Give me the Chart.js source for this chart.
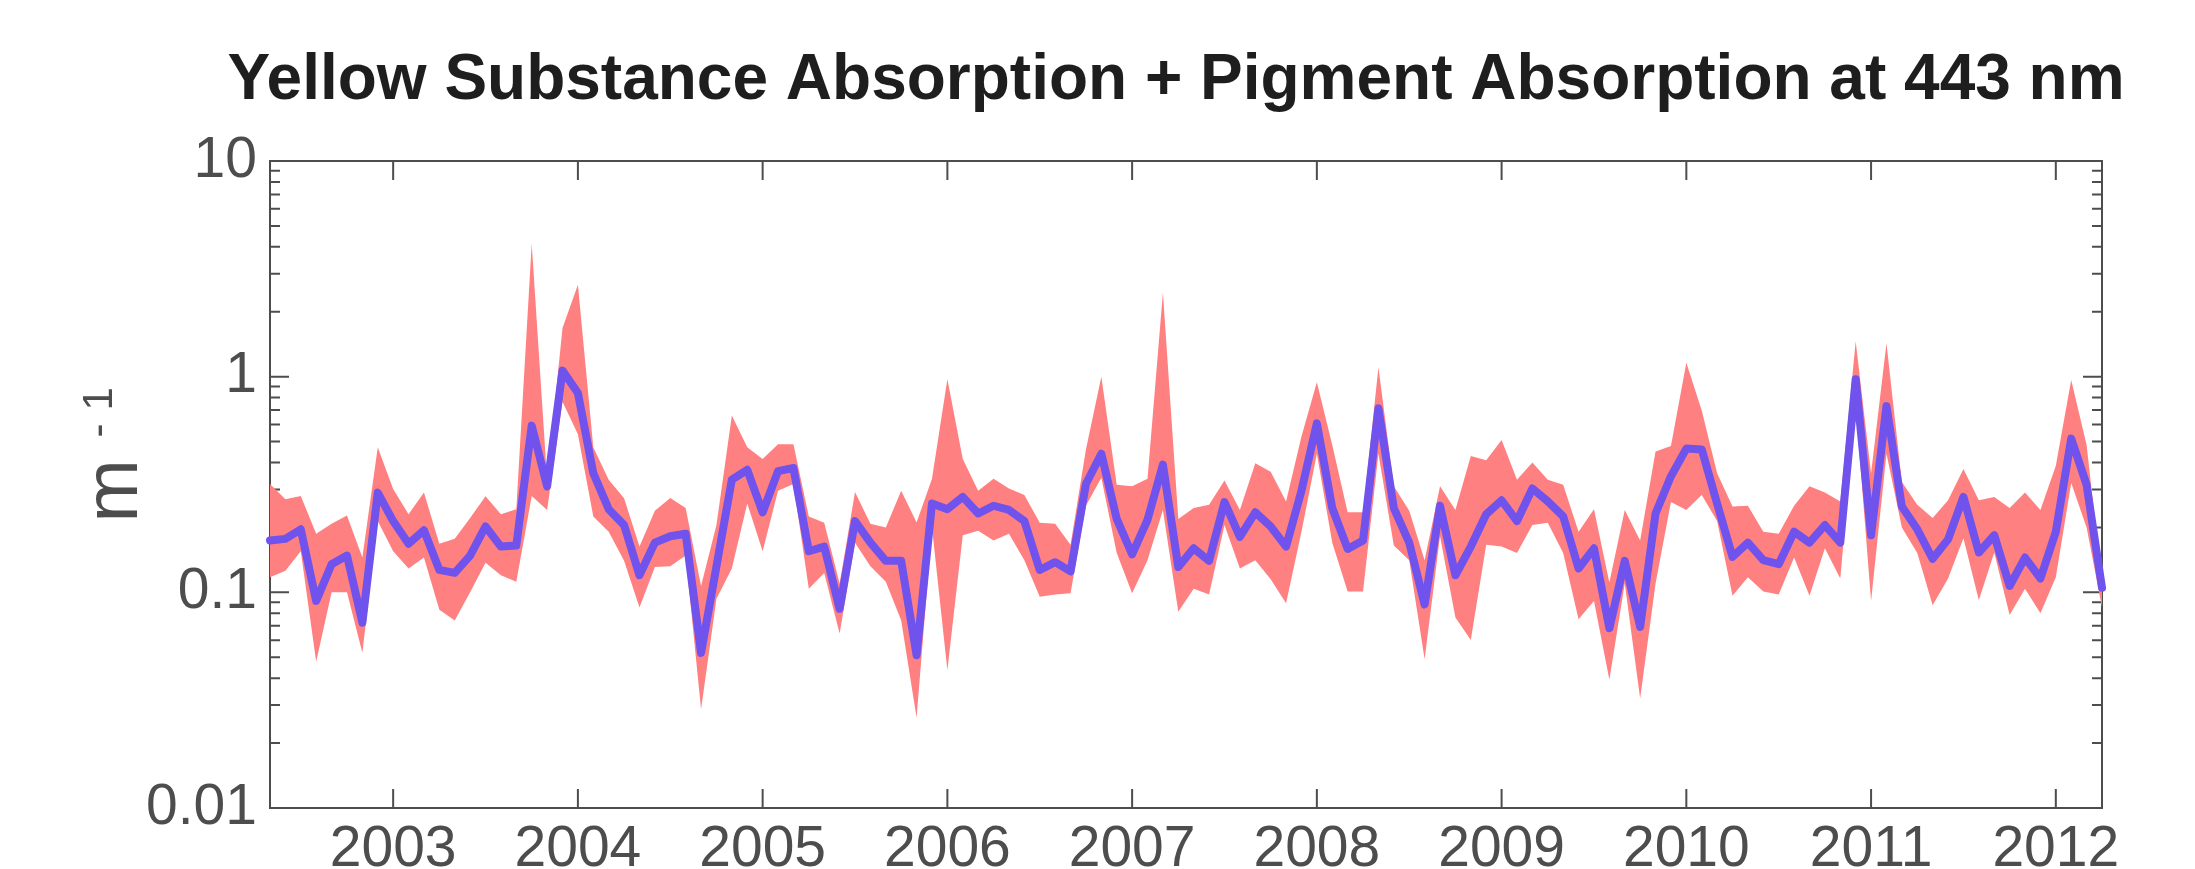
<!DOCTYPE html>
<html><head><meta charset="utf-8">
<script src="https://cdn.jsdelivr.net/npm/chart.js@4.4.1/dist/chart.umd.min.js"></script>
<style>html,body{margin:0;padding:0;background:#fff;}#wrap{width:2195px;height:869px;}</style>
</head><body><div id="wrap"><canvas id="c" width="2195" height="869"></canvas></div>
<script>
const months = [
'2002-05','2002-06','2002-07','2002-08','2002-09','2002-10','2002-11','2002-12',
'2003-01','2003-02','2003-03','2003-04','2003-05','2003-06','2003-07','2003-08','2003-09','2003-10','2003-11','2003-12',
'2004-01','2004-02','2004-03','2004-04','2004-05','2004-06','2004-07','2004-08','2004-09','2004-10','2004-11','2004-12',
'2005-01','2005-02','2005-03','2005-04','2005-05','2005-06','2005-07','2005-08','2005-09','2005-10','2005-11','2005-12',
'2006-01','2006-02','2006-03','2006-04','2006-05','2006-06','2006-07','2006-08','2006-09','2006-10','2006-11','2006-12',
'2007-01','2007-02','2007-03','2007-04','2007-05','2007-06','2007-07','2007-08','2007-09','2007-10','2007-11','2007-12',
'2008-01','2008-02','2008-03','2008-04','2008-05','2008-06','2008-07','2008-08','2008-09','2008-10','2008-11','2008-12',
'2009-01','2009-02','2009-03','2009-04','2009-05','2009-06','2009-07','2009-08','2009-09','2009-10','2009-11','2009-12',
'2010-01','2010-02','2010-03','2010-04','2010-05','2010-06','2010-07','2010-08','2010-09','2010-10','2010-11','2010-12',
'2011-01','2011-02','2011-03','2011-04','2011-05','2011-06','2011-07','2011-08','2011-09','2011-10','2011-11','2011-12',
'2012-01','2012-02','2012-03','2012-04'
];
const meanValues = [
0.174,0.177,0.196,0.0912,0.135,0.148,0.0723,0.290,0.214,0.168,
0.194,0.127,0.123,0.148,0.202,0.163,0.165,0.593,0.310,1.067,
0.839,0.357,0.243,0.205,0.120,0.170,0.182,0.187,0.0524,0.132,
0.333,0.370,0.235,0.365,0.377,0.155,0.163,0.0839,0.214,0.170,
0.140,0.140,0.0511,0.258,0.243,0.277,0.232,0.252,0.241,0.214,
0.127,0.138,0.125,0.318,0.439,0.219,0.150,0.217,0.391,0.131,
0.160,0.140,0.262,0.181,0.235,0.202,0.163,0.296,0.607,0.246,
0.159,0.174,0.713,0.246,0.170,0.0879,0.252,0.120,0.163,0.230,
0.267,0.214,0.303,0.264,0.225,0.129,0.160,0.0681,0.140,0.0691,
0.232,0.345,0.464,0.460,0.258,0.146,0.170,0.141,0.135,0.191,
0.170,0.205,0.170,0.973,0.184,0.730,0.250,0.196,0.143,0.176,
0.277,0.153,0.184,0.107,0.145,0.116,0.191,0.516,0.315,0.105
];
const upperValues = [
0.318,0.270,0.280,0.187,0.208,0.227,0.145,0.471,0.301,0.230,
0.290,0.168,0.177,0.221,0.279,0.230,0.243,4.13,0.333,1.68,
2.67,0.471,0.333,0.273,0.163,0.239,0.274,0.246,0.107,0.205,
0.660,0.471,0.415,0.486,0.486,0.225,0.210,0.110,0.292,0.208,
0.200,0.296,0.211,0.336,0.973,0.415,0.296,0.336,0.303,0.283,
0.210,0.208,0.166,0.460,1.0,0.315,0.310,0.336,2.45,0.219,
0.246,0.255,0.330,0.241,0.397,0.362,0.264,0.528,0.942,0.482,
0.235,0.235,1.107,0.310,0.239,0.141,0.310,0.241,0.429,0.410,
0.509,0.333,0.400,0.333,0.315,0.191,0.243,0.111,0.241,0.174,
0.450,0.477,1.16,0.697,0.357,0.250,0.252,0.191,0.187,0.252,
0.310,0.290,0.264,1.46,0.357,1.43,0.325,0.255,0.221,0.267,
0.373,0.267,0.277,0.246,0.290,0.241,0.386,0.964,0.482,0.110
];
const lowerValues = [
0.1175,0.126,0.155,0.0477,0.100,0.100,0.0524,0.214,0.155,0.129,
0.145,0.0831,0.0740,0.100,0.137,0.120,0.112,0.280,0.241,0.765,
0.541,0.225,0.191,0.140,0.0851,0.131,0.132,0.148,0.0287,0.0933,
0.129,0.258,0.155,0.296,0.318,0.104,0.123,0.0645,0.170,0.132,
0.112,0.074,0.0262,0.200,0.0435,0.184,0.193,0.174,0.187,0.141,
0.0955,0.0977,0.099,0.252,0.340,0.152,0.099,0.141,0.241,0.0812,
0.104,0.0977,0.205,0.129,0.141,0.115,0.0891,0.191,0.439,0.170,
0.101,0.101,0.439,0.165,0.141,0.0489,0.182,0.0765,0.0601,0.166,
0.163,0.152,0.205,0.210,0.152,0.0751,0.0912,0.0393,0.110,0.0322,
0.110,0.262,0.241,0.283,0.214,0.0964,0.1175,0.101,0.0977,0.145,
0.0964,0.160,0.116,0.730,0.0912,0.439,0.200,0.152,0.0871,0.116,
0.178,0.092,0.153,0.0786,0.104,0.080,0.1175,0.321,0.200,0.0851
];
const yTickValues = [0.01, 0.1, 1, 10];
const yTickLabels = ['0.01', '0.1', '1', '10'];
const yMinorMultipliers = [2,3,4,5,6,7,8,9];
const titleText = 'Yellow Substance Absorption + Pigment Absorption at 443 nm';
const yUnit = 'm';
const yUnitSign = '-';
const yUnitPower = '1';

const FONT = "'Liberation Sans', Arial, Helvetica, sans-serif";
const AXIS_COLOR = '#4d4d4d';
const FILL_COLOR = 'rgb(255,128,128)';
const LINE_COLOR = '#6f53ec';

const decorPlugin = {
  id: 'decor',
  beforeDatasetsDraw(chart) {
    const {ctx, chartArea: a, scales: {x, y}} = chart;
    ctx.save();
    ctx.strokeStyle = AXIS_COLOR;
    ctx.lineWidth = 2;
    ctx.beginPath();
    x.ticks.forEach((t, i) => {
      const px = x.getPixelForTick(i);
      ctx.moveTo(px, a.bottom); ctx.lineTo(px, a.bottom - 19);
      ctx.moveTo(px, a.top); ctx.lineTo(px, a.top + 19);
    });
    yTickValues.forEach((v, idx) => {
      const py = y.getPixelForValue(v);
      ctx.moveTo(a.left, py); ctx.lineTo(a.left + 19, py);
      ctx.moveTo(a.right, py); ctx.lineTo(a.right - 19, py);
      if (idx < yTickValues.length - 1) {
        yMinorMultipliers.forEach(m => {
          const pm = y.getPixelForValue(v * m);
          ctx.moveTo(a.left, pm); ctx.lineTo(a.left + 10, pm);
          ctx.moveTo(a.right, pm); ctx.lineTo(a.right - 10, pm);
        });
      }
    });
    ctx.stroke();
    ctx.strokeRect(a.left, a.top, a.right - a.left, a.bottom - a.top);
    ctx.restore();
  },
  afterDraw(chart) {
    const {ctx, chartArea: a} = chart;
    ctx.save();
    ctx.fillStyle = '#1e1e1e';
    ctx.font = 'bold 64px ' + FONT;
    ctx.textAlign = 'center';
    ctx.textBaseline = 'alphabetic';
    ctx.fillText(titleText, (a.left + a.right) / 2 - 10, a.top - 62);
    const cy = (a.top + a.bottom) / 2;
    ctx.translate(a.left - 133, cy + 38);
    ctx.rotate(-Math.PI / 2);
    ctx.fillStyle = AXIS_COLOR;
    ctx.textAlign = 'left';
    ctx.font = '76px ' + FONT;
    ctx.fillText(yUnit, 0, 0);
    ctx.font = '42px ' + FONT;
    ctx.fillText(yUnitSign, 85, -25);
    ctx.fillText(yUnitPower, 112, -25);
    ctx.restore();
  }
};

new Chart(document.getElementById('c'), {
  type: 'line',
  data: {
    labels: months,
    datasets: [
      {label: 'mean', data: meanValues, borderColor: LINE_COLOR, borderWidth: 8,
       borderJoinStyle: 'round', borderCapStyle: 'round', fill: false, order: 0, pointRadius: 0, tension: 0},
      {label: 'upper', data: upperValues, borderColor: 'rgba(0,0,0,0)', borderWidth: 1,
       backgroundColor: FILL_COLOR, fill: '+1', order: 1, pointRadius: 0, tension: 0},
      {label: 'lower', data: lowerValues, borderColor: 'rgba(0,0,0,0)', borderWidth: 1,
       fill: false, order: 2, pointRadius: 0, tension: 0}
    ]
  },
  options: {
    responsive: false,
    animation: false,
    devicePixelRatio: 1,
    layout: {padding: {left: 0, right: 93, top: 161, bottom: 0}},
    plugins: {legend: {display: false}, tooltip: {enabled: false}, title: {display: false}},
    scales: {
      x: {
        type: 'category', offset: false,
        grid: {display: false, drawTicks: false}, border: {display: false},
        ticks: {autoSkip: false, maxRotation: 0, minRotation: 0, color: AXIS_COLOR,
                font: {family: FONT, size: 57}, padding: 8,
                callback(v) { return this.getLabelForValue(v).slice(0, 4); }},
        afterBuildTicks(s) { s.ticks = s.ticks.filter(t => months[t.value].endsWith('-01')); },
        afterFit(s) { s.height = 61; s.paddingLeft = 0; s.paddingRight = 0; }
      },
      y: {
        type: 'logarithmic', min: 0.01, max: 10,
        grid: {display: false, drawTicks: false}, border: {display: false},
        ticks: {autoSkip: false, color: AXIS_COLOR, font: {family: FONT, size: 57}, padding: 13,
                callback(v) { const i = yTickValues.indexOf(v); return i >= 0 ? yTickLabels[i] : ''; }},
        afterBuildTicks(s) { s.ticks = yTickValues.map(v => ({value: v})); },
        afterFit(s) { s.width = 270; s.paddingTop = 0; s.paddingBottom = 0; }
      }
    }
  },
  plugins: [decorPlugin]
});
</script></body></html>
